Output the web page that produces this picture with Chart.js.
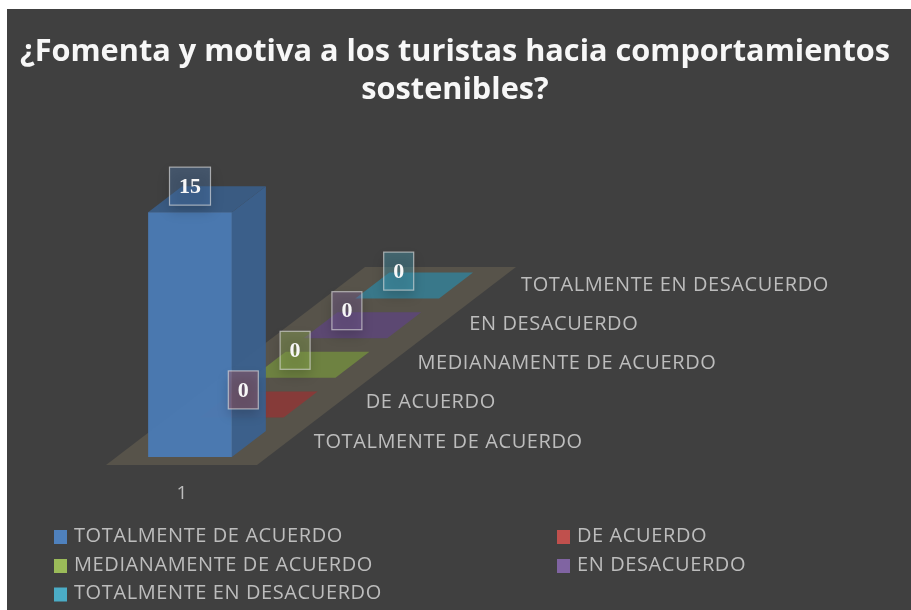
<!DOCTYPE html>
<html lang="es">
<head>
<meta charset="utf-8">
<style>
html,body{margin:0;padding:0;background:#fff;width:911px;height:610px;overflow:hidden}
#box{position:absolute;left:7px;top:9px;width:904px;height:601px;background:#404040;filter:blur(0.6px)}
</style>
<script src="https://cdn.jsdelivr.net/npm/chart.js@4"></script>
</head>
<body>
<div id="box"><canvas id="c" width="904" height="601"></canvas></div>
<script>
const titleLines = ['¿Fomenta y motiva a los turistas hacia comportamientos', 'sostenibles?'];
const categories = ['1'];
const seriesNames = ['TOTALMENTE DE ACUERDO', 'DE ACUERDO', 'MEDIANAMENTE DE ACUERDO', 'EN DESACUERDO', 'TOTALMENTE EN DESACUERDO'];
const seriesValues = [[15], [0], [0], [0], [0]];
const seriesColors = ['#4f81bd', '#c0504d', '#9bbb59', '#8064a2', '#4bacc6'];

const TEXT = '#bdbdbd';
const FONT = '"Open Sans", "Noto Sans", sans-serif';
const STEP_X = 51.8, STEP_Y = 39.6;   // shift from one depth row to the next
const DEPTH_X = 34, DEPTH_Y = 26;     // depth of one bar

function shade(hex, f, a) {
  const n = parseInt(hex.slice(1), 16);
  return `rgba(${Math.round((n >> 16) * f)},${Math.round(((n >> 8) & 255) * f)},${Math.round((n & 255) * f)},${a})`;
}
function poly(ctx, pts, fill) {
  ctx.beginPath();
  pts.forEach((p, i) => i ? ctx.lineTo(p[0], p[1]) : ctx.moveTo(p[0], p[1]));
  ctx.closePath();
  ctx.fillStyle = fill;
  ctx.fill();
}

const bar3d = {
  id: 'bar3d',
  beforeDatasetsDraw(chart) {
    const {ctx, chartArea: a} = chart;
    const n = chart.data.datasets.length;
    const b = a.bottom + 8, l = a.left - 9, r = a.right - 8;
    poly(ctx, [[l, b], [r, b],
      [r + n * STEP_X, b - n * STEP_Y], [l + n * STEP_X, b - n * STEP_Y]], '#57534a');
  },
  beforeDatasetDraw(chart, args) {
    const ctx = chart.ctx, k = args.index;
    const el = args.meta.data[0].getProps(['x', 'y', 'base', 'width'], true);
    const c = seriesColors[k];
    ctx.save();
    ctx.translate(k * STEP_X, -k * STEP_Y);
    const L = el.x - el.width / 2, R = el.x + el.width / 2;
    poly(ctx, [[L, el.y], [R, el.y], [R + DEPTH_X, el.y - DEPTH_Y], [L + DEPTH_X, el.y - DEPTH_Y]], shade(c, 0.72, 0.92));
    if (el.base > el.y) {
      poly(ctx, [[R, el.y], [R + DEPTH_X, el.y - DEPTH_Y], [R + DEPTH_X, el.base - DEPTH_Y], [R, el.base]], shade(c, 0.75, 0.95));
    }
  },
  afterDatasetDraw(chart) { chart.ctx.restore(); },
  afterDatasetsDraw(chart) {
    const ctx = chart.ctx;
    const count = chart.data.datasets.length;
    // depth axis labels
    ctx.save();
    ctx.font = '20px ' + FONT;
    ctx.letterSpacing = '0.6px';
    ctx.fillStyle = TEXT;
    ctx.textAlign = 'left';
    ctx.textBaseline = 'middle';
    chart.data.datasets.forEach((ds, k) => {
      const el = chart.getDatasetMeta(k).data[0].getProps(['x', 'base', 'width'], true);
      ctx.fillText(ds.label, el.x + el.width / 2 + 82 + k * STEP_X, el.base - 15 - k * 39.3);
    });
    ctx.letterSpacing = '0px';
    // value labels
    ctx.font = 'bold 22px "Liberation Serif", serif';
    ctx.textAlign = 'center';
    for (let k = count - 1; k >= 0; k--) {
      const ds = chart.data.datasets[k];
      const el = chart.getDatasetMeta(k).data[0].getProps(['x', 'y'], true);
      const txt = String(ds.data[0]);
      const w = ctx.measureText(txt).width + 19, h = 38;
      const cx = el.x + k * STEP_X + (k ? 1.5 : 0), cy = el.y - DEPTH_Y - k * STEP_Y - (k ? 1.5 : 0);
      ctx.save();
      ctx.shadowColor = 'rgba(0,0,0,0.5)';
      ctx.shadowBlur = 12;
      ctx.shadowOffsetY = 6;
      ctx.fillStyle = shade(seriesColors[k], 1, 0.35);
      ctx.fillRect(cx - w / 2, cy - h / 2, w, h);
      ctx.restore();
      ctx.strokeStyle = 'rgba(225,225,225,0.65)';
      ctx.lineWidth = 1.2;
      ctx.strokeRect(cx - w / 2, cy - h / 2, w, h);
      ctx.fillStyle = '#f7f7f7';
      ctx.fillText(txt, cx, cy + 1);
    }
    ctx.restore();
  },
  afterDraw(chart) {
    // two-column legend
    const ctx = chart.ctx;
    const colX = [47, 550], rowY = [527, 556, 584.5];
    ctx.save();
    ctx.font = '20px ' + FONT;
    ctx.letterSpacing = '0.6px';
    ctx.textBaseline = 'middle';
    ctx.textAlign = 'left';
    chart.data.datasets.forEach((ds, k) => {
      const col = k === 1 || k === 3 ? 1 : 0;
      const row = k < 2 ? 0 : k < 4 ? 1 : 2;
      const x = colX[col], y = rowY[row];
      ctx.fillStyle = seriesColors[k];
      ctx.fillRect(x, y - 6, 13, 14);
      ctx.fillStyle = TEXT;
      ctx.fillText(ds.label, x + 20, y);
    });
    ctx.restore();
  }
};

new Chart(document.getElementById('c'), {
  type: 'bar',
  data: {
    labels: categories,
    datasets: seriesNames.map((name, k) => ({
      label: name,
      data: seriesValues[k],
      backgroundColor: shade(seriesColors[k], 0.95, 0.96),
      borderWidth: 0,
      grouped: false,
      clip: false,
      barPercentage: 0.558,
      categoryPercentage: 1
    }))
  },
  options: {
    responsive: false,
    animation: false,
    events: [],
    layout: {padding: {right: 8}},
    plugins: {
      legend: {display: false},
      tooltip: {enabled: false},
      title: {
        display: true,
        text: titleLines,
        color: '#f7f7f7',
        font: {family: FONT, size: 30.7, weight: 'bold', lineHeight: 1.24},
        padding: {top: 24, bottom: 103}
      }
    },
    scales: {
      x: {
        grid: {display: false},
        border: {display: false},
        ticks: {color: TEXT, font: {family: FONT, size: 19}, padding: 17, labelOffset: -8},
        afterFit(s) { s.height = 153; }
      },
      y: {
        min: 0, max: 15,
        grid: {display: false},
        border: {display: false},
        ticks: {display: false},
        afterFit(s) { s.width = 108; }
      },
      yRight: {
        position: 'right',
        grid: {display: false},
        border: {display: false},
        ticks: {display: false},
        afterFit(s) { s.width = 904 - 258 - 8; }
      }
    }
  },
  plugins: [bar3d]
});
</script>
</body>
</html>
